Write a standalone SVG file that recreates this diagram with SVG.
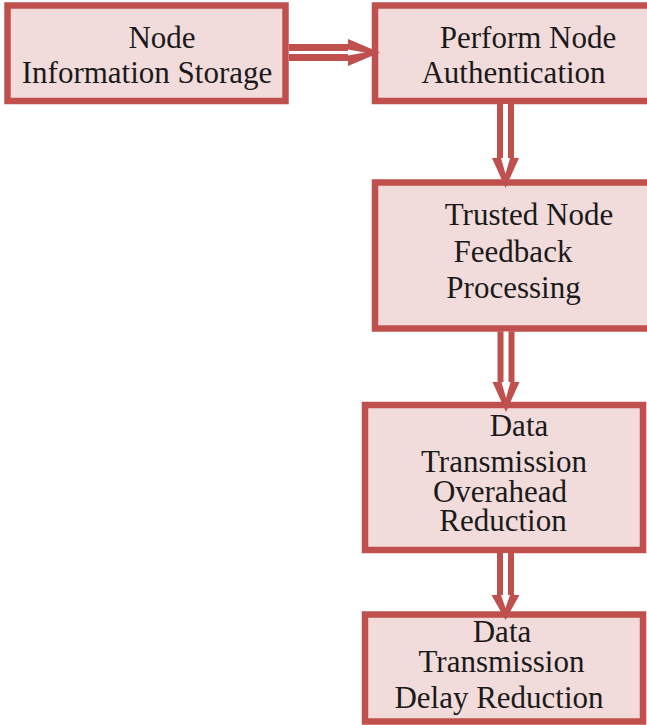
<svg xmlns="http://www.w3.org/2000/svg" width="647" height="725" viewBox="0 0 647 725">
<style>
.box{fill:#f2dcdb;stroke:#c0504d;stroke-width:6.5}
.t{font-family:"Liberation Serif","Times New Roman",serif;font-size:31px;fill:#1a1a1a;text-anchor:middle}
.ar{fill:#c0504d}
.in{fill:#ffffff}
</style>
<rect width="647" height="725" fill="#ffffff"/>
<g id="node1">
<rect class="box" x="7.5" y="5.5" width="278" height="95.5"/>
<text class="t" x="162" y="48">Node</text>
<text class="t" x="147" y="83">Information Storage</text>
</g>
<g id="node2">
<rect class="box" x="375" y="5.5" width="285" height="95.5"/>
<text class="t" x="528" y="48">Perform Node</text>
<text class="t" x="513.5" y="83">Authentication</text>
</g>
<g id="node3">
<rect class="box" x="375" y="182.5" width="285" height="146"/>
<text class="t" x="529" y="225">Trusted Node</text>
<text class="t" x="513" y="262">Feedback</text>
<text class="t" x="513.5" y="298">Processing</text>
</g>
<g id="node4">
<rect class="box" x="365" y="405" width="278" height="145"/>
<text class="t" x="519" y="436">Data</text>
<text class="t" x="504" y="471.5">Transmission</text>
<text class="t" x="500" y="501.5">Overahead</text>
<text class="t" x="503" y="530.5">Reduction</text>
</g>
<g id="node5">
<rect class="box" x="365" y="614.5" width="278" height="107"/>
<text class="t" x="502" y="641.5">Data</text>
<text class="t" x="501.5" y="671.5">Transmission</text>
<text class="t" x="499" y="708">Delay Reduction</text>
</g>
<g id="connectors">
<polygon class="ar" points="289,44 348,44 348,39 380,52.5 348,66 348,61 289,61"/>
<polygon class="in" points="289,51 348,51 348,49.5 365,52.5 348,55.5 348,54 289,54"/>
<polygon class="ar" points="497,104 514,104 514,158 519,158 505.5,188 492,158 497,158"/>
<polygon class="in" points="503,104 508,104 508,158 510,158 505.5,174 501,158 503,158"/>
<polygon class="ar" points="497.5,331.5 514.5,331.5 514.5,382 519.5,382 506,412 492.5,382 497.5,382"/>
<polygon class="in" points="503.5,331.5 508.5,331.5 508.5,382 510.5,382 506,398 501.5,382 503.5,382"/>
<polygon class="ar" points="497,553 514,553 514,595 519.5,595 505.5,620 491.5,595 497,595"/>
<polygon class="in" points="503,553 508,553 508,595 510,595 505.5,608 501,595 503,595"/>
</g>
</svg>
